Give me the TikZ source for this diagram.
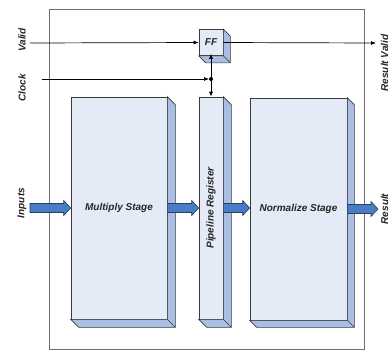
\documentclass[tikz,border=0pt]{standalone}
\usepackage{fontspec}
\setmainfont{Liberation Sans}
\usetikzlibrary{arrows.meta,calc}
\definecolor{facec}{HTML}{E4EAF6}
\definecolor{sidec}{HTML}{A8BEE2}
\definecolor{edgec}{HTML}{3A3A3A}
\definecolor{ablue}{HTML}{4A7CC6}
\definecolor{aedge}{HTML}{2A3E60}
\definecolor{framec}{HTML}{6E6E6E}
\definecolor{txt}{HTML}{262626}
\newcommand\addside[2]{%
  \filldraw[fill=sidec,draw=edgec,line width=0.6pt] (#1.north east) -- ++(#2,#2) -- ($(#1.south east)+(#2,#2)$) -- ($(#1.south west)+(#2,#2)$) -- (#1.south west) -- (#1.south east) -- cycle;
  \draw[edgec,line width=0.6pt] (#1.south east) -- ++(#2,#2);}
\begin{document}
\begin{tikzpicture}[x=1pt,y=-1pt,
  lbl/.style={font=\fontsize{10}{12}\selectfont\bfseries\itshape, text=txt, inner sep=0pt},
  front/.style={draw=edgec, fill=facec, line width=0.6pt, inner sep=0pt, lbl},
  sig/.style={draw=black, line width=0.7pt, -{Latex[length=5pt,width=4pt]}},
  blk/.style={draw=aedge, fill=ablue, line width=0.6pt,
    to path={let \p1=(\tikztostart), \p2=(\tikztotarget) in
      (\x1,\y1+4.5pt) -- (\x2-7pt,\y1+4.5pt) -- (\x2-7pt,\y1+7.5pt) -- (\x2,\y1)
      -- (\x2-7pt,\y1-7.5pt) -- (\x2-7pt,\y1-4.5pt) -- (\x1,\y1-4.5pt) -- cycle}}]
\useasboundingbox (0,0) rectangle (391,354);
% frame
\node[draw=framec, line width=0.8pt, minimum width=315pt, minimum height=340pt, inner sep=0pt] (frame) at (206.5,179) {};
% boxes
\node[front, minimum width=96pt, minimum height=222pt] (mul) at (119,208) {Multiply Stage};
\node[front, minimum width=24pt, minimum height=222pt] (pipe) at (211,208) {};
\node[front, minimum width=97pt, minimum height=222pt] (norm) at (298.5,209) {Normalize Stage};
\node[front, minimum width=24pt, minimum height=26pt] (ff) at (211,42.5) {FF};
\addside{mul}{8}
\addside{pipe}{8}
\addside{norm}{7}
\addside{ff}{7}
\node[lbl, rotate=90] (pipetext) at (pipe.center) {Pipeline Register};
% coordinates
\coordinate (inS) at (30,208);
\coordinate (resE) at (378,209);
\coordinate (valS) at (30,43);
\coordinate (rvE) at (376,43);
\coordinate (clkS) at (42,79);
\coordinate (jn) at (211,79);
% block arrows
\draw[blk] (inS) to (mul.west);
\draw[blk] (mul.east) to (pipe.west);
\draw[blk] (pipe.east) to (norm.west);
\draw[blk] (norm.east) to (resE);
% signals
\draw[sig] (valS) -- (ff.west);
\draw[sig] (ff.east) -- (rvE);
\draw[sig, shorten >=2pt] (clkS) -- (jn);
\draw[sig, shorten >=-2pt] (jn) -- (ff.south);
\draw[sig] (jn) -- (pipe.north);
\fill (jn) circle (2pt);
% labels
\node[lbl, rotate=90] (lvalid) at (22,40) {Valid};
\node[lbl, rotate=90] (lclock) at (22,88) {Clock};
\node[lbl, rotate=90] (linputs) at (22,203) {Inputs};
\node[lbl, rotate=90] (lrv) at (384.5,63) {Result Valid};
\node[lbl, rotate=90] (lres) at (384.5,209) {Result};
\end{tikzpicture}
\end{document}
